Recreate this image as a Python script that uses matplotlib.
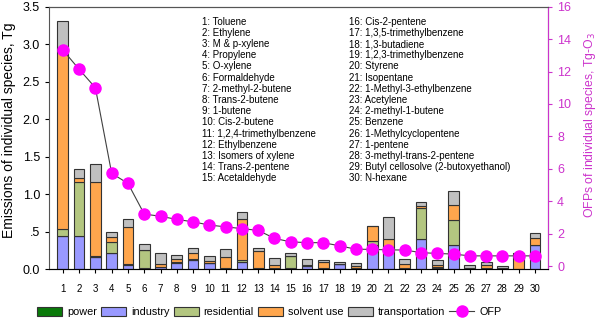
import numpy as np
import matplotlib
matplotlib.use('Agg')
import matplotlib.pyplot as plt
from matplotlib.lines import Line2D

plt.rcParams['font.family'] = ['Liberation Sans', 'DejaVu Sans']

species = ["Toluene", "Ethylene", "M & p-xylene", "Propylene", "O-xylene",
           "Formaldehyde", "2-methyl-2-butene", "Trans-2-butene", "1-butene",
           "Cis-2-butene", "1,2,4-trimethylbenzene", "Ethylbenzene",
           "Isomers of xylene", "Trans-2-pentene", "Acetaldehyde",
           "Cis-2-pentene", "1,3,5-trimethylbenzene", "1,3-butadiene",
           "1,2,3-trimethylbenzene", "Styrene", "Isopentane",
           "1-Methyl-3-ethylbenzene", "Acetylene", "2-methyl-1-butene",
           "Benzene", "1-Methylcyclopentene", "1-pentene",
           "3-methyl-trans-2-pentene", "Butyl cellosolve (2-butoxyethanol)",
           "N-hexane"]

industry = [0.44, 0.44, 0.16, 0.22, 0.05, 0.0, 0.03, 0.08, 0.12, 0.075,
            0.015, 0.10, 0.0, 0.02, 0.0, 0.04, 0.0, 0.065, 0.0, 0.32,
            0.29, 0.015, 0.40, 0.02, 0.32, 0.01, 0.0, 0.0, 0.0, 0.32]
power = [0.0, 0.0, 0.0, 0.0, 0.015, 0.01, 0.0, 0.01, 0.0, 0.0,
         0.005, 0.0, 0.015, 0.0, 0.01, 0.0, 0.01, 0.0, 0.01, 0.0,
         0.0, 0.005, 0.0, 0.01, 0.0, 0.01, 0.02, 0.015, 0.0, 0.0]
residential = [0.10, 0.72, 0.01, 0.14, 0.0, 0.24, 0.0, 0.0, 0.02, 0.0,
               0.0, 0.02, 0.0, 0.0, 0.16, 0.0, 0.0, 0.0, 0.0, 0.06,
               0.01, 0.0, 0.42, 0.0, 0.34, 0.0, 0.0, 0.0, 0.0, 0.0]
solvent = [2.41, 0.05, 0.99, 0.07, 0.50, 0.01, 0.04, 0.04, 0.07, 0.03,
           0.145, 0.55, 0.22, 0.03, 0.0, 0.02, 0.09, 0.0, 0.035, 0.19,
           0.10, 0.05, 0.02, 0.03, 0.19, 0.0, 0.03, 0.0, 0.21, 0.10]
transport = [0.36, 0.13, 0.24, 0.06, 0.10, 0.07, 0.15, 0.06, 0.07, 0.065,
             0.105, 0.09, 0.045, 0.10, 0.05, 0.07, 0.02, 0.028, 0.03, 0.01,
             0.29, 0.065, 0.05, 0.06, 0.19, 0.035, 0.045, 0.03, 0.005, 0.065]
ofp = [13.33, 12.14, 11.0, 5.72, 5.1, 3.21, 3.07, 2.88, 2.73, 2.53,
       2.42, 2.31, 2.2, 1.71, 1.49, 1.45, 1.44, 1.25, 1.04, 1.03,
       1.0, 0.99, 0.83, 0.78, 0.74, 0.63, 0.63, 0.63, 0.63, 0.63]
left_ticks = [0.0, 0.5, 1.0, 1.5, 2.0, 2.5, 3.0, 3.5]
left_ticklabels = ['0.0', '.5', '1.0', '1.5', '2.0', '2.5', '3.0', '3.5']

mag = '#cc33cc'
colors = {'power': '#0a7a0a', 'industry': '#9999ff', 'residential': '#b3c680',
          'solvent use': '#ffa64d', 'transportation': '#c0c0c0'}

x = np.arange(1, len(species) + 1)
fig = plt.figure(figsize=(6.0, 3.23), dpi=100)
ax = fig.add_axes([49/600, 1 - 269/323, 499/600, 262.3/323])

bottom = np.zeros(len(x))
handles = {}
for name, vals in [('industry', industry), ('power', power),
                   ('residential', residential), ('solvent use', solvent),
                   ('transportation', transport)]:
    b = ax.bar(x, vals, 0.66, bottom=bottom, color=colors[name],
               edgecolor='#333333', linewidth=0.8)
    handles[name] = b
    bottom += np.array(vals)

ax.set_xlim(0.15, 30.8)
ax.set_ylim(0, 3.5)
ax.set_xticks(x)
ax.set_xticklabels([str(i) for i in x], fontsize=7)
ax.set_yticks(left_ticks)
ax.set_yticklabels(left_ticklabels, fontsize=9)
ax.tick_params(direction='out', length=3, width=0.8)
ax.tick_params(axis='x', pad=8)
ax.set_ylabel('Emissions of individual species, Tg', fontsize=10)
ax.yaxis.set_label_coords(-0.066, 0.53)
for s in ax.spines.values():
    s.set_color('#555555')
    s.set_linewidth(0.8)

ax2 = ax.twinx()
ax2.plot(x, ofp, color='#404040', lw=0.8, marker='o', ms=8,
         mfc='#ff00ff', mec='#ff00ff')
ax2.set_ylim(-0.18, 16)
ax2.set_yticks(np.arange(0, 17, 2))
ax2.tick_params(axis='y', colors=mag, labelsize=9, direction='out',
                length=3, width=0.8)
ax2.spines['right'].set_color(mag)
ax2.spines['right'].set_linewidth(0.8)
ax2.spines['top'].set_color('#555555')
ax2.spines['left'].set_visible(False)
ax2.set_ylabel('OFPs of individual species, Tg-O$_3$', color=mag, fontsize=8.8)
ax2.yaxis.set_label_coords(1.068, 0.55)

# species list
for i, name in enumerate(species):
    col = i // 15
    row = i % 15
    ax.text(0.306 + col * 0.295, 0.943 - row * 0.04266, '%d: %s' % (i + 1, name),
            transform=ax.transAxes, fontsize=7, va='center', ha='left')

order = ['power', 'industry', 'residential', 'solvent use', 'transportation']
hs = [handles[k] for k in order]
hs.append(Line2D([], [], color='#404040', lw=0.8, marker='o', ms=8,
                 mfc='#ff00ff', mec='#ff00ff'))
fig.legend(hs, order + ['OFP'], loc='center', bbox_to_anchor=(0.449, 0.033),
           ncol=6, frameon=False, fontsize=7.8, handlelength=2.3,
           handleheight=0.8, handletextpad=0.45, columnspacing=0.4)

fig.savefig('out.png', dpi=100)
